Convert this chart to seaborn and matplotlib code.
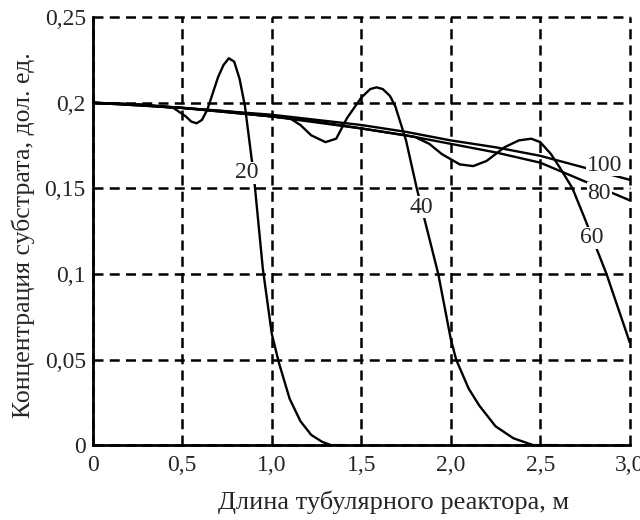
import seaborn as sns
import matplotlib.pyplot as plt
import pandas as pd

# curve data
x_100 = [0, 0.25, 0.5, 0.75, 1.0, 1.25, 1.5, 1.75, 2.0, 2.25, 2.5, 2.75, 3.0]
c_100 = [0.200, 0.199, 0.197, 0.195, 0.193, 0.190, 0.187, 0.183, 0.178, 0.174, 0.169, 0.162, 0.155]

x_80 = [0, 0.25, 0.5, 0.75, 1.0, 1.25, 1.5, 1.75, 2.0, 2.25, 2.5, 2.75, 3.0]
c_80 = [0.200, 0.199, 0.197, 0.195, 0.192, 0.189, 0.185, 0.181, 0.176, 0.171, 0.165, 0.154, 0.143]

x_60 = [0, 0.5, 1.0, 1.5, 1.8, 1.88, 1.95, 2.05, 2.125, 2.2, 2.3, 2.38, 2.45, 2.5, 2.56,
        2.61, 2.68, 2.75, 2.87, 3.0]
c_60 = [0.200, 0.197, 0.192, 0.185, 0.180, 0.176, 0.170, 0.164, 0.163, 0.166, 0.174, 0.178,
        0.179, 0.177, 0.170, 0.162, 0.150, 0.132, 0.100, 0.060]

x_40 = [0, 0.5, 1.0, 1.1, 1.16, 1.22, 1.3, 1.36, 1.42, 1.5, 1.55, 1.585, 1.62, 1.66, 1.69,
        1.75, 1.81, 1.87, 1.93, 2.0, 2.03, 2.1, 2.16, 2.25, 2.35, 2.46, 2.6]
c_40 = [0.200, 0.197, 0.192, 0.191, 0.187, 0.181, 0.177, 0.179, 0.191, 0.203, 0.208, 0.209,
        0.208, 0.204, 0.198, 0.178, 0.150, 0.125, 0.100, 0.062, 0.050, 0.033, 0.023, 0.011,
        0.004, 0.0, 0.0]

x_20 = [0, 0.25, 0.45, 0.52, 0.55, 0.58, 0.61, 0.64, 0.7, 0.73, 0.76, 0.79, 0.82, 0.85,
        0.9, 0.95, 1.0, 1.04, 1.1, 1.16, 1.22, 1.28, 1.33, 1.4]
c_20 = [0.200, 0.199, 0.197, 0.192, 0.189, 0.188, 0.190, 0.196, 0.215, 0.222, 0.226, 0.224,
        0.214, 0.198, 0.157, 0.103, 0.065, 0.048, 0.027, 0.014, 0.006, 0.002, 0.0, 0.0]

labels = ['100', '80', '60', '40', '20']
label_pos = [(2.86, 0.1635), (2.83, 0.147), (2.79, 0.121), (1.835, 0.139), (0.862, 0.159)]

x_ticks = [0, 0.5, 1.0, 1.5, 2.0, 2.5, 3.0]
x_tick_labels = ['0', '0,5', '1,0', '1,5', '2,0', '2,5', '3,0']
y_ticks = [0, 0.05, 0.1, 0.15, 0.2, 0.25]
y_tick_labels = ['0', '0,05', '0,1', '0,15', '0,2', '0,25']

sns.set_style('white')
plt.rcParams['font.family'] = ['Liberation Serif', 'DejaVu Serif']

fig = plt.figure(figsize=(6.4, 5.2), dpi=100)
ax = fig.add_axes([0.145, 0.144, 0.839, 0.823])

curves = [(x_100, c_100), (x_80, c_80), (x_60, c_60), (x_40, c_40), (x_20, c_20)]
for xs, ys in curves:
    df = pd.DataFrame({'x': xs, 'c': ys})
    sns.lineplot(data=df, x='x', y='c', color='black', lw=1.7, ax=ax,
                 estimator=None, sort=False, zorder=3)

for lab, (lx, ly) in zip(labels, label_pos):
    ax.text(lx, ly, lab, fontsize=17, ha='center', va='center', zorder=5,
            bbox=dict(facecolor='white', edgecolor='none', pad=0.5))

ax.set_xlim(0, 3.0)
ax.set_ylim(0, 0.25)
ax.set_xticks(x_ticks)
ax.set_xticklabels(x_tick_labels)
ax.set_yticks(y_ticks)
ax.set_yticklabels(y_tick_labels)

# dashed grid, also used as top and right border
ax.grid(True, color='black', linestyle=(0, (4, 2.5)), lw=1.8)
for gl in ax.get_xgridlines() + ax.get_ygridlines():
    gl.set_clip_on(False)
ax.set_axisbelow(True)

ax.spines['top'].set_visible(False)
ax.spines['right'].set_visible(False)
ax.spines['left'].set_linewidth(2)
ax.spines['bottom'].set_linewidth(2)
ax.spines['left'].set_color('black')
ax.spines['bottom'].set_color('black')

ax.tick_params(axis='y', direction='out', length=3, width=1.5, color='black',
               labelsize=17, pad=2)
ax.tick_params(axis='x', direction='out', length=0, labelsize=17, pad=7)

ax.set_xlabel('Длина тубулярного реактора, м', fontsize=19)
ax.set_ylabel('Концентрация субстрата, дол. ед.', fontsize=18.5)
ax.xaxis.set_label_coords(0.56, -0.105)
ax.yaxis.set_label_coords(-0.108, 0.49)

fig.savefig('out.png', dpi=100)
